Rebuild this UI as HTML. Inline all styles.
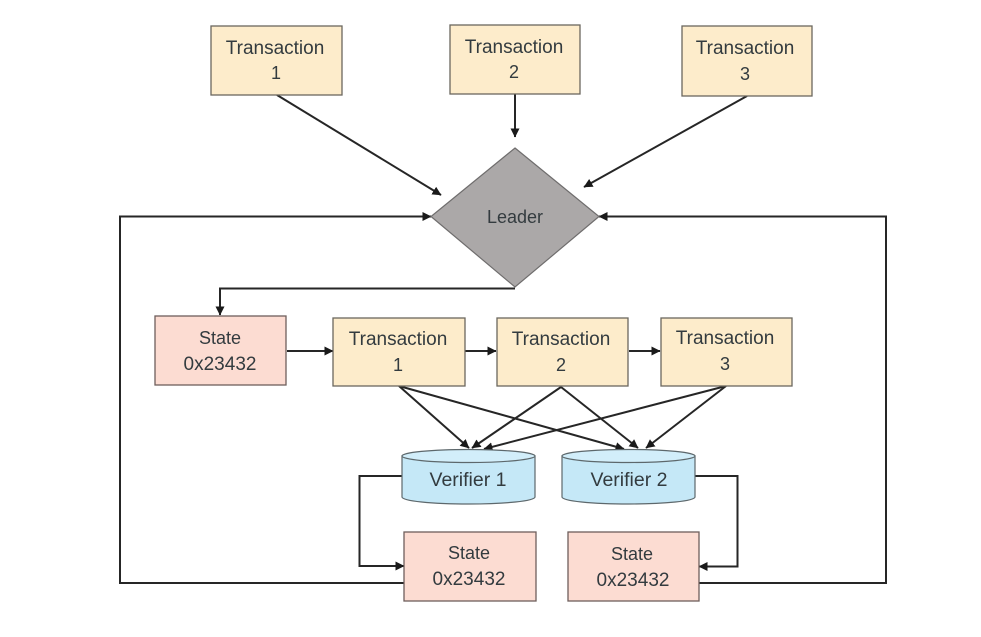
<!DOCTYPE html>
<html>
<head>
<meta charset="utf-8">
<style>
html,body{margin:0;padding:0;background:#fff;width:981px;height:637px;overflow:hidden}
svg{display:block;filter:blur(.35px)}
text{font-family:"Liberation Sans",sans-serif;font-size:18px;fill:#333b3f;text-anchor:middle}
.b{font-size:19px}
.v{font-size:19.5px}
.t{stroke:#6b675f;stroke-width:1.3;fill:#fdeccb}
.s{stroke:#6e5f5c;stroke-width:1.3;fill:#fcdcd2}
.c{stroke:#262626;stroke-width:2;fill:none}
</style>
</head>
<body>
<svg width="981" height="637" viewBox="0 0 981 637" xmlns="http://www.w3.org/2000/svg">
<defs>
<marker id="a" markerWidth="9" markerHeight="9" refX="8.500" refY="4.500" orient="auto" markerUnits="userSpaceOnUse">
<path d="M0 0L9 4.500L0 9z" fill="#1a1a1a"/>
</marker>
</defs>

<!-- top connectors -->
<path class="c" d="M277 95L441 195" marker-end="url(#a)"/>
<path class="c" d="M515 94V137" marker-end="url(#a)"/>
<path class="c" d="M747 96L584 187" marker-end="url(#a)"/>

<!-- outer loops -->
<path class="c" d="M404 583H120V216.500H431" marker-end="url(#a)"/>
<path class="c" d="M699 583H886V216.500H599" marker-end="url(#a)"/>

<!-- leader to state -->
<path class="c" d="M515 288.500H220V315" marker-end="url(#a)"/>

<!-- chain -->
<path class="c" d="M287 351H333" marker-end="url(#a)"/>
<path class="c" d="M465 351H496" marker-end="url(#a)"/>
<path class="c" d="M629 351H660" marker-end="url(#a)"/>

<!-- crossing -->
<path class="c" d="M399 386L469 448" marker-end="url(#a)"/>
<path class="c" d="M399 386L624 449" marker-end="url(#a)"/>
<path class="c" d="M561 387L472 448" marker-end="url(#a)"/>
<path class="c" d="M561 387L638 448" marker-end="url(#a)"/>
<path class="c" d="M726 386L484 449" marker-end="url(#a)"/>
<path class="c" d="M726 386L646 448" marker-end="url(#a)"/>

<!-- verifier to state -->
<path class="c" d="M402 476H359.500V566H404" marker-end="url(#a)"/>
<path class="c" d="M695 476H737.500V566.500H699" marker-end="url(#a)"/>

<!-- top transactions -->
<rect class="t" x="211" y="26" width="131" height="69"/>
<text class="b" x="275" y="54">Transaction</text><text x="276" y="79">1</text>
<rect class="t" x="450" y="25" width="130" height="69"/>
<text class="b" x="514" y="53">Transaction</text><text x="514" y="78">2</text>
<rect class="t" x="682" y="26" width="130" height="70"/>
<text class="b" x="745" y="54">Transaction</text><text x="745" y="80">3</text>

<!-- leader -->
<polygon points="515,148 599,216.500 515,287 431,216.500" fill="#aba8a8" stroke="#6f6d6d" stroke-width="1.2"/>
<text x="515" y="223">Leader</text>

<!-- row 2 -->
<rect class="s" x="155" y="316" width="131" height="69"/>
<text x="220" y="344">State</text><text class="b" x="220" y="370">0x23432</text>
<rect class="t" x="333" y="318" width="132" height="68"/>
<text class="b" x="398" y="345">Transaction</text><text x="398" y="371">1</text>
<rect class="t" x="497" y="318" width="131" height="68"/>
<text class="b" x="561" y="345">Transaction</text><text x="561" y="371">2</text>
<rect class="t" x="661" y="318" width="131" height="68"/>
<text class="b" x="725" y="344">Transaction</text><text x="725" y="370">3</text>

<!-- verifiers -->
<path d="M402 456V497C402 501 432 504 468.500 504C505 504 535 501 535 497V456Z" fill="#c5e8f7" stroke="#5d686c" stroke-width="1.2"/>
<ellipse cx="468.500" cy="456" rx="66.500" ry="6.500" fill="#d2eefa" stroke="#5d686c" stroke-width="1.2"/>
<text class="v" x="468" y="486">Verifier 1</text>
<path d="M562 456V497C562 501 592 504 628.500 504C665 504 695 501 695 497V456Z" fill="#c5e8f7" stroke="#5d686c" stroke-width="1.2"/>
<ellipse cx="628.500" cy="456" rx="66.500" ry="6.500" fill="#d2eefa" stroke="#5d686c" stroke-width="1.2"/>
<text class="v" x="629" y="486">Verifier 2</text>

<!-- bottom states -->
<rect class="s" x="404" y="532" width="132" height="69"/>
<text x="469" y="559">State</text><text class="b" x="469" y="585">0x23432</text>
<rect class="s" x="568" y="532" width="131" height="69"/>
<text x="632" y="560">State</text><text class="b" x="633" y="586">0x23432</text>
</svg>
</body>
</html>
